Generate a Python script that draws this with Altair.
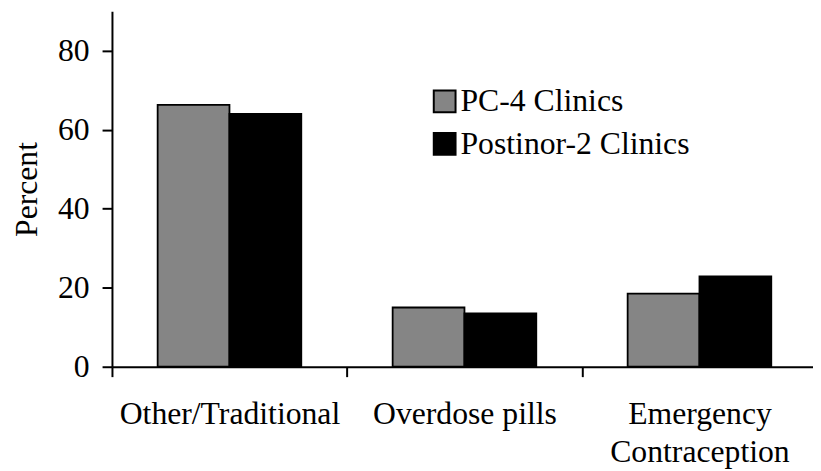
import altair as alt
import pandas as pd

categories = ["Other/Traditional", "Overdose pills", "Emergency Contraception"]
series = ["PC-4 Clinics", "Postinor-2 Clinics"]
pc4 = [66.3, 15.0, 18.5]
postinor = [64.0, 13.5, 22.9]

rows = []
for i, c in enumerate(categories):
    rows.append({"cat": c, "series": series[0], "value": pc4[i]})
    rows.append({"cat": c, "series": series[1], "value": postinor[i]})
df = pd.DataFrame(rows)

FONT = "Liberation Serif"

chart = alt.Chart(df).mark_bar(stroke="black", strokeWidth=1.8).encode(
    x=alt.X("cat:N", sort=categories, title=None,
            scale=alt.Scale(range=[0, 712], paddingInner=0, paddingOuter=0),
            axis=alt.Axis(labelExpr="datum.value == 'Emergency Contraception' ? ['Emergency', 'Contraception'] : datum.value",
                          labelAngle=0, tickBand="extent", tickSize=10, tickWidth=2,
                          domainWidth=2, domainColor="black", tickColor="black",
                          labelFont=FONT, labelFontSize=32, labelColor="black",
                          labelPadding=22, labelLineHeight=39, labelLimit=600)),
    xOffset=alt.XOffset("series:N", sort=series,
                        scale=alt.Scale(paddingOuter=0.636, paddingInner=0)),
    y=alt.Y("value:Q", title="Percent",
            scale=alt.Scale(domain=[0, 90], nice=False),
            axis=alt.Axis(values=[0, 20, 40, 60, 80], grid=False, tickSize=10, tickWidth=2,
                          domainWidth=2, domainColor="black", tickColor="black",
                          labelFont=FONT, labelFontSize=32, labelColor="black", labelPadding=13,
                          titleFont=FONT, titleFontSize=32, titleFontWeight="normal",
                          titleColor="black", titlePadding=14)),
    fill=alt.Fill("series:N", sort=series,
                  scale=alt.Scale(domain=series, range=["#858585", "#000000"]),
                  legend=alt.Legend(title=None, orient="none", legendX=320, legendY=75,
                                    symbolType="square", symbolSize=484,
                                    symbolStrokeColor="black", symbolStrokeWidth=2,
                                    labelFont=FONT, labelFontSize=32, labelColor="black",
                                    labelOffset=0, rowPadding=11, labelLimit=400)),
).properties(
    width=708, height=359,
    autosize=alt.AutoSizeParams(type="none"),
    padding={"left": 105, "top": 1, "right": 0, "bottom": 103},
).configure_view(stroke=None)

chart.save("out.html", embed_options={"renderer": "svg", "actions": False})
